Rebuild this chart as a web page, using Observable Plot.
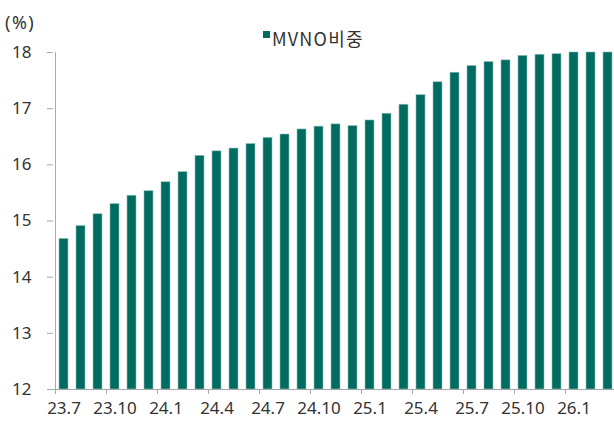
<!DOCTYPE html>
<html><head><meta charset="utf-8">
<script src="https://cdn.jsdelivr.net/npm/d3@7"></script>
<script src="https://cdn.jsdelivr.net/npm/@observablehq/plot@0.6"></script>
<style>
body{margin:0;background:#fff;font-family:"Noto Sans CJK KR","Noto Sans",sans-serif;}
#wrap{position:relative;width:614px;height:421px;overflow:hidden;}
#unit{position:absolute;left:5px;top:13px;font-size:18px;line-height:18px;letter-spacing:1.5px;color:#333;font-family:"Noto Sans",sans-serif;}
#legend{position:absolute;left:263px;top:29px;font-size:18px;line-height:18px;color:#333;white-space:nowrap;}
#legend span.sw{position:absolute;left:0;top:2px;width:7px;height:7px;background:#006b60;}
#legend span.tx{position:absolute;left:9px;top:0;letter-spacing:1.2px;}
</style></head>
<body><div id="wrap"><div id="unit">(%)</div><div id="legend"><span class="sw"></span><span class="tx">MVNO비중</span></div></div>
<script>
const months = ["23.7","23.8","23.9","23.10","23.11","23.12","24.1","24.2","24.3","24.4","24.5","24.6","24.7","24.8","24.9","24.10","24.11","24.12","25.1","25.2","25.3","25.4","25.5","25.6","25.7","25.8","25.9","25.10","25.11","25.12","26.1","26.2","26.3"];
const mvnoShare = [14.68,14.91,15.12,15.30,15.45,15.53,15.69,15.87,16.16,16.24,16.29,16.37,16.48,16.54,16.63,16.68,16.72,16.69,16.79,16.91,17.07,17.24,17.47,17.64,17.76,17.83,17.86,17.94,17.96,17.97,18.0,18.0,18.0];
const labeledMonths = ["23.7","23.10","24.1","24.4","24.7","24.10","25.1","25.4","25.7","25.10","26.1"];
const yTicks = [12,13,14,15,16,17,18];

const data = months.map((m,i)=>({month:m, value:mvnoShare[i]}));
const x0 = 53, x1 = 617.3;
const step = (x1 - x0) / months.length;

const chart = Plot.plot({
  width: 614, height: 421,
  marginTop: 52, marginBottom: 32, marginLeft: 53, marginRight: 0,
  style: {fontFamily: '"Noto Sans",sans-serif', fontSize: "17px", color: "#333", overflow: "visible"},
  x: {type: "band", domain: months, range: [x0, x1], paddingInner: 0.49, paddingOuter: 0.245},
  y: {domain: [12, 18], label: null},
  marks: [
    Plot.barY(data, {x: "month", y1: 12, y2: "value", fill: "#006b60", stroke: "#8fc0b9", strokeWidth: 0.6}),
    Plot.ruleY([12], {stroke: "#a6a6a6"}),
    Plot.ruleX([months[0]], {x: d => d, y1: 12, y2: 18, dx: -step/2, stroke: "#a6a6a6"}),
    Plot.axisY({ticks: yTicks, tickSize: 6, tickPadding: 16, label: null, tickFormat: d3.format("d"), stroke: "#a6a6a6", fill: "#333"}),
    Plot.axisX({ticks: labeledMonths, tickSize: 5, dx: -step/2, tickFormat: () => "", label: null, stroke: "#a6a6a6"}),
    Plot.axisX({ticks: labeledMonths, tickSize: 0, tickPadding: 12, label: null, fill: "#333"})
  ]
});
chart.style.position = "absolute";
chart.style.left = "0"; chart.style.top = "0";
document.getElementById("wrap").prepend(chart);
</script></body></html>
